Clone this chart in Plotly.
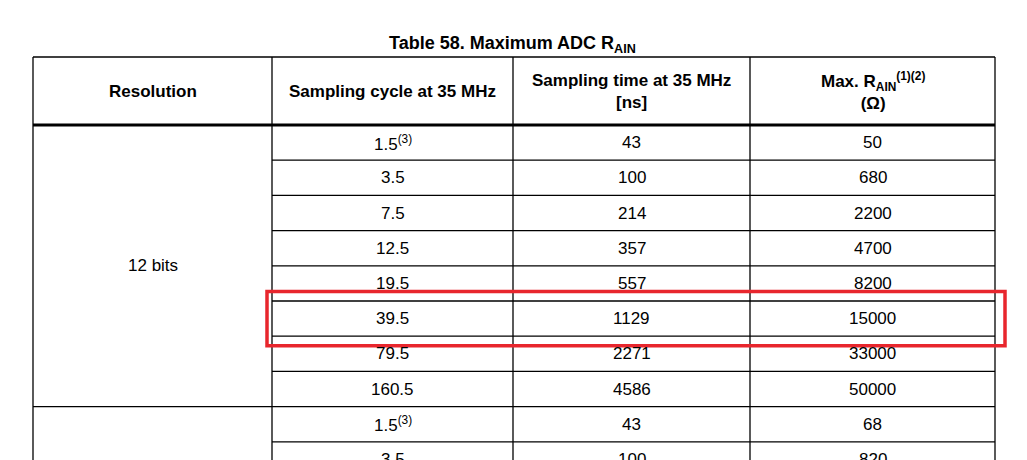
import plotly.graph_objects as go

title = "Table 58. Maximum ADC R<sub>AIN</sub>"
headers = ["Resolution", "Sampling cycle at 35 MHz", "Sampling time at 35 MHz<br>[ns]",
           "Max. R<sub>AIN</sub><sup>(1)(2)</sup><br>(Ω)"]
resolutions = ["12 bits"]
cycles = ["1.5<sup>(3)</sup>", "3.5", "7.5", "12.5", "19.5", "39.5", "79.5", "160.5", "1.5<sup>(3)</sup>", "3.5"]
times = ["43", "100", "214", "357", "557", "1129", "2271", "4586", "43", "100"]
rain = ["50", "680", "2200", "4700", "8200", "15000", "33000", "50000", "68", "820"]
group_rows = 8
highlight_row = 5

W, H = 1027, 460
off = 8  # page body margin
col_x = [33 - off, 272 - off, 513 - off, 750 - off, 995 - off]
top, head_bot, row_h = 57 - off, 125 - off, 35.2
font = "Liberation Sans, Arial, sans-serif"

fig = go.Figure()
shapes, ann = [], []
line = dict(color="black", width=1.3)

def hline(y, x0, x1, w=1.3):
    shapes.append(dict(type="line", x0=x0, x1=x1, y0=y, y1=y, line=dict(color="black", width=w)))

hline(top, col_x[0], col_x[-1])
hline(head_bot, col_x[0], col_x[-1], 3)
for x in col_x:
    shapes.append(dict(type="line", x0=x, x1=x, y0=top, y1=H + 5, line=line))
for i in range(1, len(cycles)):
    y = head_bot + i * row_h
    if i % group_rows == 0:
        hline(y, col_x[0], col_x[-1])
    else:
        hline(y, col_x[1], col_x[-1])

y0 = head_bot + highlight_row * row_h
shapes.append(dict(type="rect", x0=267 - off, x1=1005 - off, y0=y0 - 9.5, y1=y0 + row_h + 9.5,
                   line=dict(color="#e8262d", width=3.5)))

ann.append(dict(x=512 - off, y=44 - off, text="<b>" + title + "</b>", font=dict(size=18)))
for j, h in enumerate(headers):
    ann.append(dict(x=(col_x[j] + col_x[j + 1]) / 2, y=(top + head_bot) / 2,
                    text="<b>" + h + "</b>", font=dict(size=17)))
for i, (c, t, r) in enumerate(zip(cycles, times, rain)):
    yc = head_bot + (i + 0.5) * row_h
    for j, v in enumerate([c, t, r]):
        ann.append(dict(x=(col_x[j + 1] + col_x[j + 2]) / 2, y=yc, text=v, font=dict(size=17)))
for g, res in enumerate(resolutions):
    yc = head_bot + (g + 0.5) * group_rows * row_h
    ann.append(dict(x=(col_x[0] + col_x[1]) / 2, y=yc, text=res, font=dict(size=17)))

for a in ann:
    a.update(xref="x", yref="y", showarrow=False, xanchor="center", yanchor="middle")
    a["font"].update(family=font, color="black")

fig.update_layout(width=W, height=H, margin=dict(l=0, r=0, t=0, b=0),
                  plot_bgcolor="white", paper_bgcolor="white",
                  shapes=shapes, annotations=ann, showlegend=False,
                  xaxis=dict(range=[0, W], visible=False, fixedrange=True),
                  yaxis=dict(range=[H, 0], visible=False, fixedrange=True))
fig.write_html("out.html")
